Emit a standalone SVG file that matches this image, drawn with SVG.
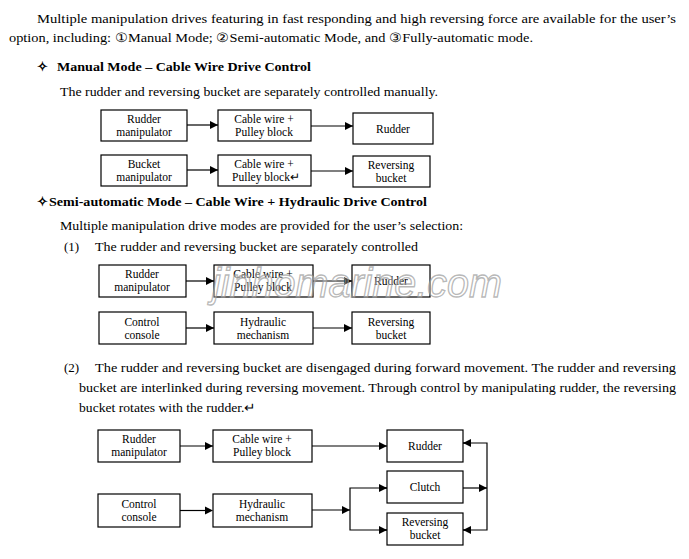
<svg xmlns="http://www.w3.org/2000/svg" width="689" height="559" viewBox="0 0 689 559">
<style>
.t{font-family:"Liberation Serif","Times New Roman",Tinos,serif;font-size:13px;fill:#000}
.b{font-weight:bold}
.n rect{fill:#fff;stroke:#000;stroke-width:1.2}
.n text{font-family:"Liberation Serif","Times New Roman",Tinos,serif;font-size:11.5px;fill:#000;text-anchor:middle}
.c line,.c polyline,.c path{stroke:#000;stroke-width:1.2;fill:none}
.c polygon{fill:#000;stroke:none}
.wm{font-family:"Liberation Sans",sans-serif;font-size:40px;font-style:italic;fill:#fff;fill-opacity:0.3;stroke:#999;stroke-width:1.3;stroke-opacity:0.7}
</style>
<defs><marker id="a" markerWidth="8" markerHeight="8" refX="8" refY="4" orient="auto" markerUnits="userSpaceOnUse"><path d="M0,0 L8,4 L0,8 z" fill="#000"/></marker></defs>
<rect width="689" height="559" fill="#fff"/>
<text class="t" x="37" y="23" textLength="639" lengthAdjust="spacingAndGlyphs">Multiple manipulation drives featuring in fast responding and high reversing force are available for the user’s</text>
<text class="t" x="9" y="42" textLength="524" lengthAdjust="spacingAndGlyphs">option, including: ①Manual Mode;  ②Semi-automatic Mode, and  ③Fully-automatic mode.</text>
<text class="t b" x="37" y="71">✧</text>
<text class="t b" x="57" y="71" textLength="254" lengthAdjust="spacingAndGlyphs">Manual Mode – Cable Wire Drive Control</text>
<text class="t" x="60" y="96" textLength="378" lengthAdjust="spacingAndGlyphs">The rudder and reversing bucket are separately controlled manually.</text>
<text class="t b" x="37" y="206">✧</text>
<text class="t b" x="49" y="206" textLength="378" lengthAdjust="spacingAndGlyphs">Semi-automatic Mode – Cable Wire + Hydraulic Drive Control</text>
<text class="t" x="60" y="230" textLength="403" lengthAdjust="spacingAndGlyphs">Multiple manipulation drive modes are provided for the user’s selection:</text>
<text class="t" x="64" y="251">(1)</text>
<text class="t" x="95" y="251" textLength="323" lengthAdjust="spacingAndGlyphs">The rudder and reversing bucket are separately controlled</text>
<text class="t" x="64" y="372">(2)</text>
<text class="t" x="95" y="372" textLength="581" lengthAdjust="spacingAndGlyphs">The rudder and reversing bucket are disengaged during forward movement. The rudder and reversing</text>
<text class="t" x="79" y="392" textLength="597" lengthAdjust="spacingAndGlyphs">bucket are interlinked during reversing movement. Through control by manipulating rudder, the reversing</text>
<text class="t" x="79" y="412" textLength="177" lengthAdjust="spacingAndGlyphs">bucket rotates with the rudder.↵</text>

<g id="nodes-under"/>
<g id="s1-rm" class="n"><rect x="101" y="110" width="86" height="31"/><text x="144" y="123">Rudder</text><text x="144" y="136">manipulator</text></g>
<g id="s1-cw1" class="n"><rect x="218" y="110" width="93" height="31"/><text x="264" y="123">Cable wire +</text><text x="264" y="136">Pulley block</text></g>
<g id="s1-r" class="n"><rect x="353" y="113" width="80" height="31"/><text x="393" y="133">Rudder</text></g>
<g id="s1-bm" class="n"><rect x="101" y="155" width="86" height="31"/><text x="144" y="168">Bucket</text><text x="144" y="181">manipulator</text></g>
<g id="s1-cw2" class="n"><rect x="218" y="155" width="93" height="31"/><text x="264" y="168">Cable wire +</text><text x="266" y="181">Pulley block↵</text></g>
<g id="s1-rb" class="n"><rect x="353" y="156" width="77" height="31"/><text x="391" y="169">Reversing</text><text x="391" y="182">bucket</text></g>

<g id="s2-rm" class="n"><rect x="99" y="265" width="87" height="32"/><text x="142" y="278">Rudder</text><text x="142" y="291">manipulator</text></g>
<g id="s2-cw" class="n"><rect x="214" y="265" width="99" height="32"/><text x="263" y="278">Cable wire +</text><text x="263" y="291">Pulley block</text></g>
<g id="s2-r" class="n"><rect x="352" y="265" width="78" height="32"/><text x="391" y="285">Rudder</text></g>
<g id="s2-cc" class="n"><rect x="99" y="312" width="87" height="32"/><text x="142" y="326">Control</text><text x="142" y="339">console</text></g>
<g id="s2-hm" class="n"><rect x="214" y="312" width="99" height="32"/><text x="263" y="326">Hydraulic</text><text x="263" y="339">mechanism</text></g>
<g id="s2-rb" class="n"><rect x="352" y="312" width="78" height="32"/><text x="391" y="326">Reversing</text><text x="391" y="339">bucket</text></g>

<g id="s3-rm" class="n"><rect x="98" y="430" width="82" height="32"/><text x="139" y="443">Rudder</text><text x="139" y="456">manipulator</text></g>
<g id="s3-cw" class="n"><rect x="213" y="430" width="99" height="32"/><text x="262" y="443">Cable wire +</text><text x="262" y="456">Pulley block</text></g>
<g id="s3-r" class="n"><rect x="387" y="430" width="76" height="32"/><text x="425" y="450">Rudder</text></g>
<g id="s3-cl" class="n"><rect x="387" y="471" width="76" height="32"/><text x="425" y="491">Clutch</text></g>
<g id="s3-rb" class="n"><rect x="387" y="513" width="76" height="32"/><text x="425" y="526">Reversing</text><text x="425" y="539">bucket</text></g>
<g id="s3-cc" class="n"><rect x="98" y="494" width="82" height="33"/><text x="139" y="508">Control</text><text x="139" y="521">console</text></g>
<g id="s3-hm" class="n"><rect x="213" y="494" width="99" height="33"/><text x="262" y="508">Hydraulic</text><text x="262" y="521">mechanism</text></g>

<g class="c">
<line x1="187" y1="125" x2="218" y2="125" marker-end="url(#a)"/>
<line x1="311" y1="126" x2="353" y2="126" marker-end="url(#a)"/>
<line x1="187" y1="170" x2="218" y2="170" marker-end="url(#a)"/>
<line x1="311" y1="171" x2="353" y2="171" marker-end="url(#a)"/>
<line x1="186" y1="281" x2="214" y2="281" marker-end="url(#a)"/>
<line x1="313" y1="281" x2="352" y2="281" marker-end="url(#a)"/>
<line x1="186" y1="328" x2="214" y2="328" marker-end="url(#a)"/>
<line x1="313" y1="328" x2="352" y2="328" marker-end="url(#a)"/>
<line x1="180" y1="446" x2="213" y2="446" marker-end="url(#a)"/>
<line x1="312" y1="446" x2="387" y2="446" marker-end="url(#a)"/>
<path d="M180,510.5 H206"/>
<polygon points="205,506.5 213,510.5 205,514.5"/>
<line x1="312" y1="510" x2="350" y2="510" marker-end="url(#a)"/>
<polyline points="387,488 350,488 350,530 387,530"/>
<line x1="380" y1="488" x2="387" y2="488" marker-end="url(#a)"/>
<line x1="380" y1="530" x2="387" y2="530" marker-end="url(#a)"/>
<line x1="463" y1="488" x2="487" y2="488" marker-end="url(#a)"/>
<polyline points="463,443 487,443 487,530 463,530"/>
<line x1="470" y1="443" x2="463" y2="443" marker-end="url(#a)"/>
<line x1="470" y1="530" x2="463" y2="530" marker-end="url(#a)"/>
</g>

<text class="wm" x="212" y="297" textLength="290" lengthAdjust="spacingAndGlyphs">jinhomarine.com</text>
</svg>
